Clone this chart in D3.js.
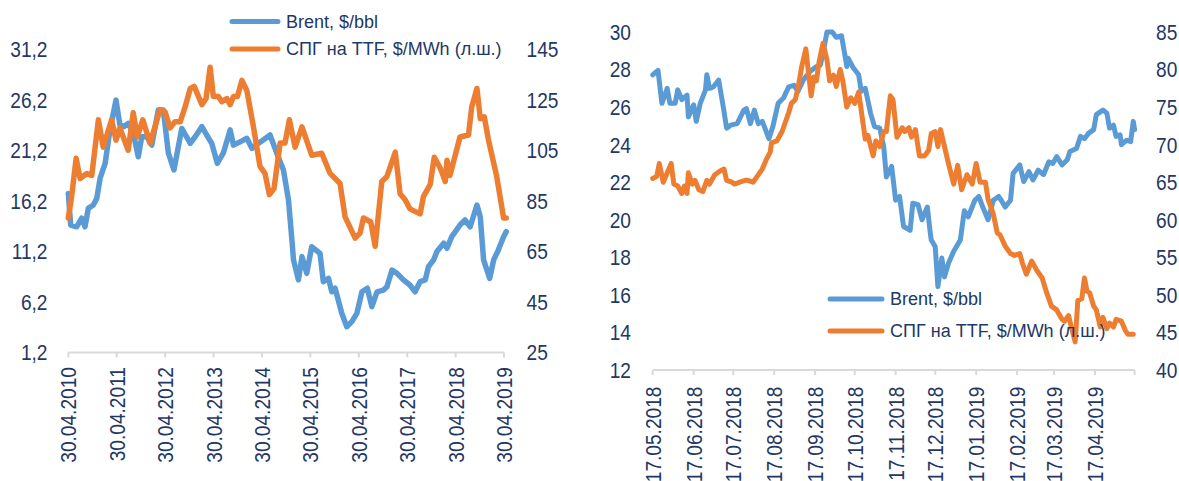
<!DOCTYPE html>
<html>
<head>
<meta charset="utf-8">
<script src="https://cdn.jsdelivr.net/npm/d3@7"></script>
<style>
  body { margin: 0; background: #fff; }
  text { font-family: "Liberation Sans", Arial, sans-serif; fill: #1f3864; }
</style>
</head>
<body>
<svg id="chart" width="1179" height="481"></svg>
<script>
// ---------- data: left panel (2010-2019) ----------
const ltBrentDates = ['2010-04-30','2010-05-18','2010-07-02','2010-08-09','2010-09-03','2010-09-28','2010-11-05','2010-12-01','2010-12-26','2011-02-02','2011-03-10','2011-04-25','2011-05-24','2011-06-24','2011-07-26','2011-09-02','2011-10-10','2011-11-05','2011-12-13','2012-01-20','2012-03-09','2012-04-16','2012-05-24','2012-07-05','2012-09-02','2012-11-05','2012-12-12','2013-02-01','2013-03-09','2013-04-16','2013-05-28','2013-07-12','2013-09-02','2013-09-27','2013-11-17','2014-01-06','2014-02-14','2014-04-02','2014-05-10','2014-06-30','2014-08-20','2014-10-09','2014-11-16','2014-12-12','2014-12-24','2015-01-30','2015-02-26','2015-04-03','2015-05-10','2015-07-12','2015-08-06','2015-09-14','2015-10-09','2015-11-03','2015-12-23','2016-01-30','2016-03-08','2016-04-15','2016-05-23','2016-07-03','2016-08-06','2016-09-14','2016-11-02','2016-11-28','2017-01-05','2017-02-12','2017-04-01','2017-05-20','2017-06-28','2017-08-05','2017-09-13','2017-10-07','2017-11-15','2017-12-10','2018-01-30','2018-02-24','2018-04-01','2018-06-02','2018-07-10','2018-08-18','2018-10-08','2018-11-02','2018-11-27','2019-01-12','2019-02-11','2019-03-18','2019-04-27','2019-05-17'];
const ltBrentValues = [87.9,75.4,74.7,78.1,74.7,82.0,83.3,86.0,93.9,99.8,113.0,124.8,115.0,114.3,115.6,111.7,102.4,110.3,110.3,107.0,120.9,120.9,103.8,97.2,113.6,107.7,110.3,114.3,111.0,107.7,99.8,103.8,113.0,107.0,108.3,109.7,105.7,107.7,109.0,111.0,103.8,97.2,85.3,69.5,61.6,53.7,62.9,56.3,66.8,64.2,53.0,54.3,49.0,50.4,40.5,35.2,37.2,40.5,49.0,50.4,43.1,49.0,49.7,51.0,57.6,56.3,53.7,51.7,49.0,53.0,53.7,58.9,61.6,64.9,68.2,66.2,70.8,75.4,77.4,74.7,83.3,78.7,61.6,54.3,61.6,65.5,70.8,72.8];

const ltTtfDates = ['2010-04-30','2010-05-25','2010-06-28','2010-07-28','2010-09-17','2010-10-24','2010-12-13','2011-01-18','2011-03-23','2011-04-25','2011-05-24','2011-07-26','2011-09-02','2011-10-02','2011-11-13','2012-01-07','2012-03-22','2012-04-29','2012-06-05','2012-07-13','2012-08-21','2012-09-28','2012-11-05','2012-12-05','2013-02-01','2013-03-04','2013-04-04','2013-04-28','2013-06-05','2013-07-01','2013-08-08','2013-09-02','2013-09-27','2013-10-27','2013-11-30','2014-01-06','2014-02-25','2014-04-15','2014-05-23','2014-06-25','2014-07-30','2014-09-14','2014-10-21','2014-11-23','2015-01-05','2015-02-26','2015-05-10','2015-07-25','2015-09-26','2015-12-10','2016-01-17','2016-04-02','2016-05-09','2016-06-04','2016-07-29','2016-08-31','2016-10-20','2016-11-28','2017-01-30','2017-03-07','2017-04-14','2017-05-20','2017-08-05','2017-08-30','2017-10-20','2017-11-20','2018-01-05','2018-02-11','2018-02-24','2018-03-18','2018-06-02','2018-08-05','2018-08-30','2018-10-08','2018-11-02','2018-12-02','2019-01-03','2019-03-06','2019-04-27','2019-05-17'];
const ltTtfValues = [14.5,16.6,20.4,18.4,18.9,18.7,24.2,21.5,24.2,22.2,23.4,21.2,24.9,22.5,24.2,21.9,25.2,25.0,23.4,24.0,24.0,25.5,27.3,27.5,25.7,26.3,29.4,26.5,26.5,26.0,26.3,25.7,26.5,26.5,28.1,27.1,23.5,19.6,18.9,16.8,17.4,21.9,21.9,24.2,21.5,23.5,20.7,20.9,18.9,17.9,14.6,12.5,13.0,14.5,14.1,11.7,18.1,18.6,21.0,16.9,16.3,15.4,14.9,16.6,17.8,20.5,19.4,18.1,20.2,18.7,22.5,22.7,25.5,27.3,24.3,24.5,22.2,18.6,14.5,14.5];

const ltTicksLeft = [1.2, 6.2, 11.2, 16.2, 21.2, 26.2, 31.2];
const ltTicksRight = [25, 45, 65, 85, 105, 125, 145];
const ltDateTicks = ['2010-04-30','2011-04-30','2012-04-30','2013-04-30','2014-04-30','2015-04-30','2016-04-30','2017-04-30','2018-04-30','2019-04-30'];

// ---------- data: right panel (May 2018 - May 2019) ----------
const rtBrentDates = ['2018-05-17','2018-05-21','2018-05-24','2018-05-28','2018-05-30','2018-06-03','2018-06-05','2018-06-08','2018-06-12','2018-06-13','2018-06-17','2018-06-19','2018-06-22','2018-06-26','2018-06-27','2018-06-29','2018-07-02','2018-07-06','2018-07-09','2018-07-12','2018-07-15','2018-07-20','2018-07-25','2018-07-27','2018-07-30','2018-08-02','2018-08-05','2018-08-08','2018-08-10','2018-08-13','2018-08-16','2018-08-20','2018-08-24','2018-08-28','2018-09-01','2018-09-04','2018-09-08','2018-09-13','2018-09-18','2018-09-21','2018-09-23','2018-09-26','2018-09-30','2018-10-03','2018-10-07','2018-10-10','2018-10-11','2018-10-12','2018-10-16','2018-10-20','2018-10-22','2018-10-25','2018-10-29','2018-11-01','2018-11-05','2018-11-08','2018-11-10','2018-11-14','2018-11-17','2018-11-20','2018-11-23','2018-11-28','2018-11-30','2018-12-04','2018-12-07','2018-12-11','2018-12-13','2018-12-14','2018-12-17','2018-12-19','2018-12-22','2018-12-24','2018-12-27','2018-12-31','2019-01-05','2019-01-08','2019-01-11','2019-01-16','2019-01-19','2019-01-22','2019-01-26','2019-01-30','2019-02-03','2019-02-05','2019-02-08','2019-02-12','2019-02-14','2019-02-19','2019-02-22','2019-02-26','2019-03-01','2019-03-05','2019-03-09','2019-03-13','2019-03-16','2019-03-19','2019-03-23','2019-03-27','2019-03-29','2019-04-03','2019-04-06','2019-04-09','2019-04-12','2019-04-16','2019-04-18','2019-04-23','2019-04-26','2019-04-28','2019-05-01','2019-05-03','2019-05-06','2019-05-07','2019-05-11','2019-05-14','2019-05-16','2019-05-17'];
const rtBrentValues = [79.3,79.9,75.5,77.5,75.5,75.5,77.3,76.0,76.6,73.7,75.3,73.1,75.5,77.3,79.3,77.5,77.7,78.6,75.5,72.2,72.6,72.8,74.6,74.8,72.8,74.6,72.8,73.1,72.2,70.8,72.4,75.5,76.2,77.7,77.9,77.1,78.6,79.7,80.4,80.6,82.2,85.6,86.3,84.3,84.5,81.5,80.4,81.5,80.2,79.3,77.1,77.5,74.2,72.4,72.2,69.7,65.7,67.1,62.6,63.1,59.1,58.6,62.2,62.0,60.0,61.7,58.6,57.3,56.4,51.1,54.9,52.4,54.2,55.8,57.3,61.2,60.4,62.6,63.1,61.7,60.0,62.6,63.1,62.6,61.7,62.6,66.2,67.3,65.1,66.4,65.3,66.6,66.0,67.7,67.5,68.4,67.3,68.0,69.1,69.5,71.1,70.8,71.5,72.0,74.0,74.6,74.2,72.2,72.6,71.1,71.3,70.0,70.6,70.4,73.1,72.0];

const rtTtfDates = ['2018-05-17','2018-05-20','2018-05-22','2018-05-25','2018-05-28','2018-05-31','2018-06-02','2018-06-05','2018-06-08','2018-06-10','2018-06-12','2018-06-13','2018-06-16','2018-06-18','2018-06-21','2018-06-24','2018-06-27','2018-06-29','2018-07-03','2018-07-07','2018-07-10','2018-07-12','2018-07-16','2018-07-18','2018-07-22','2018-07-26','2018-07-28','2018-08-01','2018-08-04','2018-08-08','2018-08-11','2018-08-14','2018-08-15','2018-08-19','2018-08-23','2018-08-25','2018-08-28','2018-08-30','2018-09-02','2018-09-04','2018-09-07','2018-09-10','2018-09-12','2018-09-14','2018-09-16','2018-09-18','2018-09-20','2018-09-23','2018-09-26','2018-09-28','2018-10-01','2018-10-03','2018-10-06','2018-10-08','2018-10-11','2018-10-14','2018-10-17','2018-10-20','2018-10-22','2018-10-25','2018-10-27','2018-10-31','2018-11-02','2018-11-05','2018-11-08','2018-11-10','2018-11-13','2018-11-15','2018-11-18','2018-11-22','2018-11-24','2018-11-27','2018-11-29','2018-12-02','2018-12-05','2018-12-09','2018-12-12','2018-12-14','2018-12-17','2018-12-19','2018-12-21','2018-12-23','2018-12-27','2018-12-31','2019-01-03','2019-01-06','2019-01-10','2019-01-14','2019-01-17','2019-01-20','2019-01-24','2019-01-26','2019-01-30','2019-02-02','2019-02-04','2019-02-08','2019-02-12','2019-02-15','2019-02-19','2019-02-21','2019-02-24','2019-02-28','2019-03-04','2019-03-08','2019-03-11','2019-03-15','2019-03-19','2019-03-23','2019-03-25','2019-03-28','2019-03-30','2019-04-02','2019-04-04','2019-04-07','2019-04-09','2019-04-11','2019-04-13','2019-04-16','2019-04-18','2019-04-21','2019-04-23','2019-04-26','2019-04-28','2019-05-01','2019-05-03','2019-05-07','2019-05-10','2019-05-12','2019-05-16'];
const rtTtfValues = [22.2,22.3,23.0,22.0,22.5,23.0,21.9,21.8,21.4,21.8,21.4,22.5,21.9,22.1,21.6,21.5,22.1,21.9,22.4,22.6,22.7,22.1,22.0,21.9,22.0,22.1,22.1,22.0,22.3,22.7,23.2,23.6,24.1,24.2,24.7,25.1,25.7,26.2,26.4,27.0,28.2,29.1,27.8,26.6,27.6,27.4,28.4,29.4,28.5,27.4,27.7,27.1,28.0,27.4,26.0,26.5,26.2,26.8,25.8,24.3,24.5,23.4,24.2,23.9,24.7,24.7,26.6,26.4,24.4,24.9,24.7,24.9,24.4,24.8,23.4,23.4,23.7,24.6,24.7,23.9,24.8,24.2,23.0,21.9,22.9,21.6,22.4,21.9,23.0,22.0,22.0,21.1,20.3,19.3,19.2,18.6,18.2,18.1,18.2,17.7,17.1,17.8,17.3,16.9,16.2,15.4,15.2,14.7,14.6,14.9,14.3,13.5,15.7,15.8,16.9,16.2,16.1,15.4,15.2,14.3,14.8,14.2,14.5,14.3,14.7,14.6,14.1,13.9,13.9];

const rtTicksLeft = [12, 14, 16, 18, 20, 22, 24, 26, 28, 30];
const rtTicksRight = [40, 45, 50, 55, 60, 65, 70, 75, 80, 85];
const rtDateTicks = ['2018-05-17','2018-06-17','2018-07-17','2018-08-17','2018-09-17','2018-10-17','2018-11-17','2018-12-17','2019-01-17','2019-02-17','2019-03-17','2019-04-17','2019-05-17'];
const rtDateLabels = rtDateTicks.slice(0, 12);

const seriesNames = ['Brent, $/bbl', 'СПГ на TTF, $/MWh (л.ш.)'];
const colors = ['#5b9bd5', '#ed7d31'];

// ---------- drawing ----------
const parse = d3.timeParse('%Y-%m-%d');
const fmtDate = d3.timeFormat('%d.%m.%Y');
const comma = d => String(d).replace('.', ',');
const squeeze = 0.87; // tick labels are a narrow face
const svg = d3.select('#chart');

function zip(dates, values) {
  return dates.map((d, i) => ({ date: parse(d), v: values[i] }));
}

function panel(p) {
  const x = d3.scaleTime().domain(p.xDomain.map(parse)).range(p.xRange);
  const yL = d3.scaleLinear().domain(p.yLDomain).range(p.yRange);
  const yR = d3.scaleLinear().domain(p.yRDomain).range(p.yRange).clamp(true);
  const g = svg.append('g');
  const base = p.yRange[0];

  // axis line + ticks
  g.append('line')
    .attr('x1', p.xRange[0]).attr('x2', p.xRange[1])
    .attr('y1', base).attr('y2', base)
    .attr('stroke', '#d9d9d9').attr('stroke-width', 2);
  g.selectAll('.xt').data(p.xTicks.map(parse)).enter().append('line')
    .attr('x1', d => x(d)).attr('x2', d => x(d))
    .attr('y1', base).attr('y2', base + 5)
    .attr('stroke', '#d9d9d9').attr('stroke-width', 2);

  // date labels (rotated)
  g.selectAll('.xl').data(p.xLabels.map(parse)).enter().append('text')
    .attr('transform', d => `translate(${x(d)},${base + p.labelGap}) rotate(-90) scale(${squeeze},1)`)
    .attr('text-anchor', 'end').attr('dy', '0.36em')
    .style('font-size', '22px')
    .text(d => fmtDate(d));

  // left value labels
  g.selectAll('.yl').data(p.leftTicks).enter().append('text')
    .attr('transform', d => `translate(${p.leftX},${yL(d)}) scale(${squeeze},1)`)
    .attr('text-anchor', 'end').attr('dy', '0.36em')
    .style('font-size', '22px')
    .text(p.leftFmt);

  // right value labels
  g.selectAll('.yr').data(p.rightTicks).enter().append('text')
    .attr('transform', d => `translate(${p.rightX},${yR(d)}) scale(${squeeze},1)`)
    .attr('text-anchor', 'start').attr('dy', '0.36em')
    .style('font-size', '22px')
    .text(d => d);

  // lines: Brent on right scale, TTF on left scale
  const lineR = d3.line().x(d => x(d.date)).y(d => yR(d.v));
  const lineL = d3.line().x(d => x(d.date)).y(d => yL(d.v));
  g.append('path').datum(p.brent)
    .attr('d', lineR).attr('fill', 'none')
    .attr('stroke', colors[0]).attr('stroke-width', p.lineWidth)
    .attr('stroke-linejoin', 'round').attr('stroke-linecap', 'round');
  g.append('path').datum(p.ttf)
    .attr('d', lineL).attr('fill', 'none')
    .attr('stroke', colors[1]).attr('stroke-width', p.lineWidth)
    .attr('stroke-linejoin', 'round').attr('stroke-linecap', 'round');

  // legend
  const lg = g.selectAll('.lg').data(seriesNames).enter().append('g')
    .attr('transform', (d, i) => `translate(${p.legendX},${p.legendY + i * p.legendStep})`);
  lg.append('line')
    .attr('x1', 0).attr('x2', p.legendLen)
    .attr('stroke', (d, i) => colors[i]).attr('stroke-width', 5)
    .attr('stroke-linecap', 'round');
  lg.append('text')
    .attr('x', p.legendLen + 8).attr('dy', '0.36em')
    .style('font-size', '18px')
    .text(d => d);
}

panel({
  xDomain: ['2010-04-30', '2019-04-30'], xRange: [68.3, 504],
  yLDomain: [1.2, 31.2], yRDomain: [25, 145], yRange: [352.5, 49],
  xTicks: ltDateTicks, xLabels: ltDateTicks, labelGap: 14.5,
  leftTicks: ltTicksLeft, leftFmt: comma, leftX: 47.5,
  rightTicks: ltTicksRight, rightX: 526.5,
  brent: zip(ltBrentDates, ltBrentValues), ttf: zip(ltTtfDates, ltTtfValues),
  lineWidth: 5.5,
  legendX: 232, legendY: 21.5, legendStep: 27.5, legendLen: 46
});

panel({
  xDomain: ['2018-05-17', '2019-05-17'], xRange: [652.7, 1134.6],
  yLDomain: [12, 30], yRDomain: [40, 85], yRange: [370, 32],
  xTicks: rtDateTicks, xLabels: rtDateLabels, labelGap: 16.5,
  leftTicks: rtTicksLeft, leftFmt: d => d, leftX: 631,
  rightTicks: rtTicksRight, rightX: 1156,
  brent: zip(rtBrentDates, rtBrentValues), ttf: zip(rtTtfDates, rtTtfValues),
  lineWidth: 5,
  legendX: 830, legendY: 299, legendStep: 32, legendLen: 52
});
</script>
</body>
</html>
